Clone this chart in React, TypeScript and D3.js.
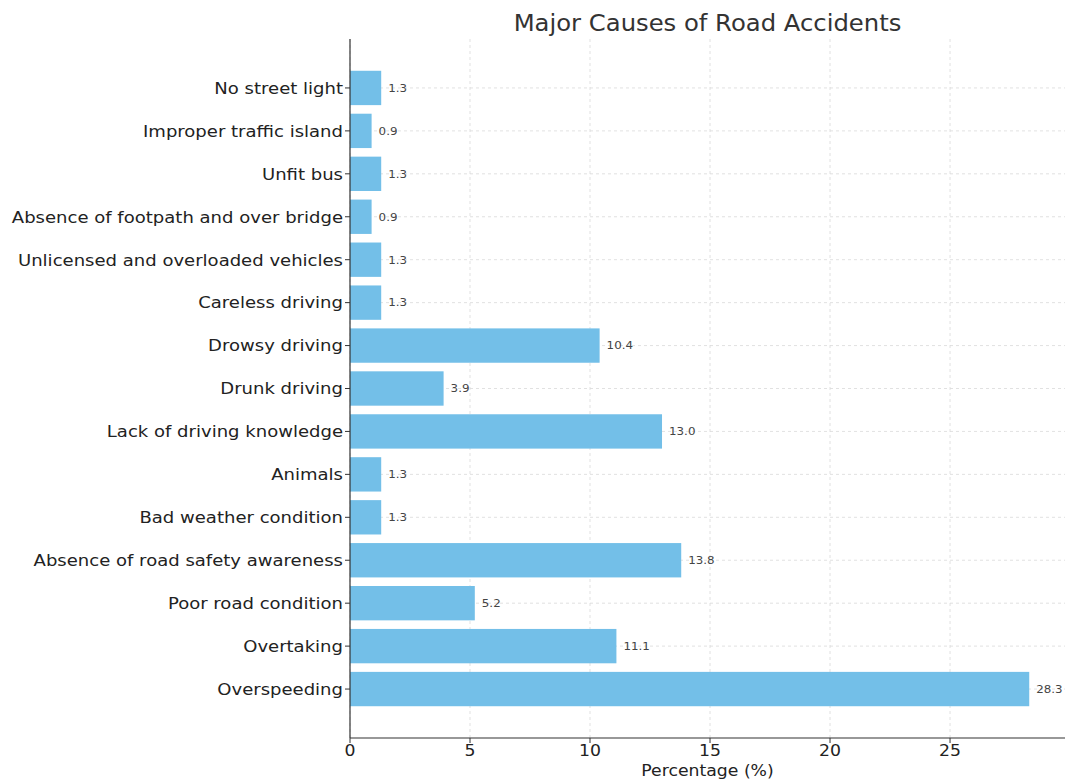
import React from 'react';
import * as d3 from 'd3';

const causes = [
  'Overspeeding',
  'Overtaking',
  'Poor road condition',
  'Absence of road safety awareness',
  'Bad weather condition',
  'Animals',
  'Lack of driving knowledge',
  'Drunk driving',
  'Drowsy driving',
  'Careless driving',
  'Unlicensed and overloaded vehicles',
  'Absence of footpath and over bridge',
  'Unfit bus',
  'Improper traffic island',
  'No street light',
];
const percentages = [28.3, 11.1, 5.2, 13.8, 1.3, 1.3, 13.0, 3.9, 10.4, 1.3, 1.3, 0.9, 1.3, 0.9, 1.3];
const xTicks = [0, 5, 10, 15, 20, 25];

const W = 1071;
const H = 781;
const left = 350;
const right = 1065;
const top = 39;
const bottom = 738;
const font = 'DejaVu Sans, sans-serif';
const SX = 1.08; // the reference text is slightly wider than DejaVu

function T(props: { x: number; y: number; size: number; anchor?: string; fill?: string; children: React.ReactNode }) {
  return (
    <text
      transform={`translate(${props.x},${props.y}) scale(${SX},1)`}
      dy="0.35em"
      textAnchor={props.anchor || 'start'}
      fontFamily={font}
      fontSize={props.size}
      fill={props.fill || '#222'}
    >
      {props.children}
    </text>
  );
}

export default function App() {
  const x = d3.scaleLinear().domain([0, 29.79]).range([left, right]);
  // matplotlib-style index axis with 5% margins
  const y = d3.scaleLinear().domain([-1.14, 15.14]).range([bottom, top]);
  const step = Math.abs(y(1) - y(0));
  const barH = step * 0.8;

  return (
    <svg width={W} height={H} style={{ position: 'absolute', left: 0, top: 0 }}>
      <rect width={W} height={H} fill="#fff" />
      <T x={(left + right) / 2} y={23} size={22.5} anchor="middle" fill="#333">
        Major Causes of Road Accidents
      </T>
      {/* grid */}
      {xTicks.map(t => (
        <line key={'gx' + t} x1={x(t)} x2={x(t)} y1={top} y2={bottom} stroke="#d9d9d9" strokeDasharray="3,3" strokeWidth={0.8} />
      ))}
      {causes.map((c, i) => (
        <line key={'gy' + c} x1={left} x2={right} y1={y(i)} y2={y(i)} stroke="#d9d9d9" strokeDasharray="3,3" strokeWidth={0.8} />
      ))}
      {/* bars */}
      {causes.map((c, i) => (
        <g key={c}>
          <rect x={x(0)} y={y(i) - barH / 2} width={x(percentages[i]) - x(0)} height={barH} fill="#73bfe8" />
          <T x={x(percentages[i]) + 7} y={y(i)} size={11} fill="#444">
            {percentages[i].toFixed(1)}
          </T>
          <line x1={left - 5} x2={left} y1={y(i)} y2={y(i)} stroke="#333" />
          <T x={left - 7} y={y(i)} size={16.7} anchor="end">
            {c}
          </T>
        </g>
      ))}
      {/* axes */}
      <line x1={left} x2={left} y1={top} y2={bottom} stroke="#333" strokeWidth={1.2} />
      <line x1={left} x2={right} y1={bottom} y2={bottom} stroke="#333" strokeWidth={1.2} />
      {xTicks.map(t => (
        <g key={'xt' + t}>
          <line x1={x(t)} x2={x(t)} y1={bottom} y2={bottom + 5} stroke="#333" />
          <T x={x(t)} y={bottom + 12} size={16} anchor="middle">
            {t}
          </T>
        </g>
      ))}
      <T x={(left + right) / 2} y={bottom + 32} size={16} anchor="middle">
        Percentage (%)
      </T>
    </svg>
  );
}
